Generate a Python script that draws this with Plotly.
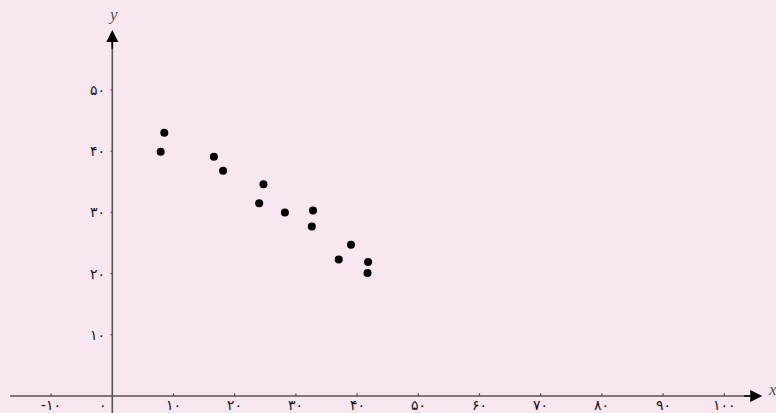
import plotly.graph_objects as go

# Data
x_vals = [8.5, 7.9, 16.6, 18.1, 24.7, 24.0, 28.2, 32.8, 32.6, 39.0, 37.0, 41.8, 41.7]
y_vals = [43.0, 39.9, 39.1, 36.8, 34.6, 31.5, 30.0, 30.3, 27.7, 24.7, 22.3, 21.9, 20.1]

x_ticks = [-10, 0, 10, 20, 30, 40, 50, 60, 70, 80, 90, 100]
x_tick_labels = ["-۱۰", "۰", "۱۰", "۲۰", "۳۰", "۴۰", "۵۰", "۶۰", "۷۰", "۸۰", "۹۰", "۱۰۰"]
y_ticks = [10, 20, 30, 40, 50]
y_tick_labels = ["۱۰", "۲۰", "۳۰", "۴۰", "۵۰"]

BG = "#f8e6f0"
AXIS = "#555555"
FONT = "DejaVu Sans"

fig = go.Figure()
fig.add_trace(go.Scatter(x=x_vals, y=y_vals, mode="markers",
                         marker=dict(color="black", size=8), hoverinfo="skip",
                         showlegend=False))

shapes = []
# axis lines
shapes.append(dict(type="line", xref="x", yref="y", x0=-16.7, y0=0, x1=104.5, y1=0,
                   line=dict(color=AXIS, width=1.6)))
shapes.append(dict(type="line", xref="x", yref="y", x0=0, y0=-2.8, x1=0, y1=58,
                   line=dict(color=AXIS, width=1.6)))
# ticks
for t in x_ticks:
    if t == 0:
        continue
    shapes.append(dict(type="line", xref="x", yref="y", x0=t, y0=0, x1=t, y1=0.45,
                       line=dict(color=AXIS, width=1.2)))
for t in y_ticks:
    shapes.append(dict(type="line", xref="x", yref="y", x0=-0.3, y0=t, x1=0, y1=t,
                       line=dict(color=AXIS, width=1.2)))

annotations = []
# arrowheads
annotations.append(dict(x=106.2, y=0, ax=103.0, ay=0, xref="x", yref="y", axref="x", ayref="y",
                        showarrow=True, arrowhead=2, arrowsize=1.5, arrowwidth=1.6,
                        arrowcolor="black", text=""))
annotations.append(dict(x=0, y=59.8, ax=0, ay=56.5, xref="x", yref="y", axref="x", ayref="y",
                        showarrow=True, arrowhead=2, arrowsize=1.5, arrowwidth=1.6,
                        arrowcolor="black", text=""))
# tick labels
for t, lab in zip(x_ticks, x_tick_labels):
    xpos = -1.6 if t == 0 else t
    annotations.append(dict(x=xpos, y=-1.55, xref="x", yref="y", text=lab,
                            showarrow=False, font=dict(family=FONT, size=14, color="#111")))
for t, lab in zip(y_ticks, y_tick_labels):
    annotations.append(dict(x=-0.8, y=t, xref="x", yref="y", text=lab,
                            showarrow=False, xanchor="right",
                            font=dict(family=FONT, size=14, color="#111")))
# axis titles
annotations.append(dict(x=107.8, y=1.0, xref="x", yref="y", text="<i>x</i>", showarrow=False,
                        font=dict(family="Liberation Serif", size=17, color=AXIS)))
annotations.append(dict(x=0.1, y=62.3, xref="x", yref="y", text="<i>y</i>", showarrow=False,
                        font=dict(family="Liberation Serif", size=17, color=AXIS)))

fig.update_layout(
    width=776, height=413,
    margin=dict(l=0, r=0, t=0, b=0),
    paper_bgcolor=BG, plot_bgcolor=BG,
    xaxis=dict(range=[-18.35, 108.45], visible=False, fixedrange=True),
    yaxis=dict(range=[-2.78, 64.7], visible=False, fixedrange=True),
    shapes=shapes, annotations=annotations,
)

fig.write_html("out.html", config={"displayModeBar": False},
               post_script="document.body.style.margin='0';document.body.style.overflow='hidden';document.body.style.background='" + BG + "';")
